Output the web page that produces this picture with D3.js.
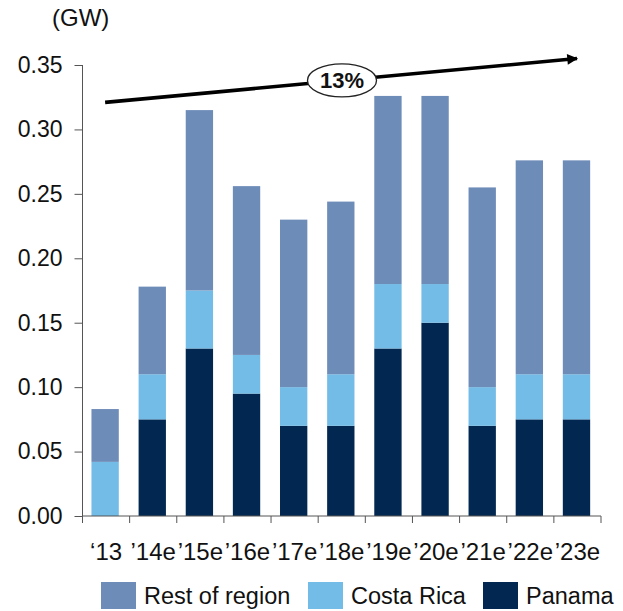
<!DOCTYPE html>
<html><head><meta charset="utf-8">
<script src="https://cdn.jsdelivr.net/npm/d3@7"></script>
<style>body{margin:0;background:#fff}text{font-family:"Liberation Sans",Arial,sans-serif}</style>
</head><body><svg id="c" width="623" height="611"></svg>
<script>
const categories = ["\u201813","\u201914e","\u201915e","\u201916e","\u201917e","\u201918e","\u201919e","\u201920e","\u201921e","\u201922e","\u201923e"];
const panama     = [0.000,0.075,0.130,0.095,0.070,0.070,0.130,0.150,0.070,0.075,0.075];
const costaRica  = [0.042,0.035,0.045,0.030,0.030,0.040,0.050,0.030,0.030,0.035,0.035];
const restRegion = [0.041,0.068,0.140,0.131,0.130,0.134,0.146,0.146,0.155,0.166,0.166];
const seriesNames = ["Panama","Costa Rica","Rest of region"];
const seriesColors = ["#022851","#73BCE7","#6E8CB8"];
const yTicks = [0,0.05,0.10,0.15,0.20,0.25,0.30,0.35];
const legendItems = ["Rest of region","Costa Rica","Panama"];
const cagrLabel = "13%";
const cagrStart = 0.321, cagrEnd = 0.355;

const FONT = "Liberation Sans, Arial, sans-serif";
const svg = d3.select("#c");
const x = d3.scaleBand().domain(categories).range([82.5,601]).padding(0);
const bw = x.bandwidth();
const y = d3.scaleLinear().domain([0,0.35]).range([516,65]);

const rows = categories.map((c,i)=>({cat:c,"Panama":panama[i],"Costa Rica":costaRica[i],"Rest of region":restRegion[i]}));
const stack = d3.stack().keys(seriesNames)(rows);
svg.append("g").selectAll("g").data(stack).join("g")
  .attr("fill",(d,i)=>seriesColors[i])
  .selectAll("rect").data(d=>d).join("rect")
  .attr("x",d=>x(d.data.cat)+bw*0.19).attr("width",bw*0.58)
  .attr("y",d=>y(d[1])).attr("height",d=>y(d[0])-y(d[1]));

// y axis
const ya = svg.append("g").attr("transform","translate(82.5,0)")
  .call(d3.axisLeft(y).tickValues(yTicks).tickFormat(d3.format(".2f")).tickSize(8).tickPadding(12));
ya.select(".domain").attr("stroke","#555").attr("d","M0,65V516");
ya.selectAll(".tick line").attr("stroke","#555");
ya.selectAll("text").attr("font-size",23).attr("fill","#111").attr("font-family",FONT);

// x axis
const xa = svg.append("g").attr("transform","translate(0,516)")
  .call(d3.axisBottom(x).tickSize(0).tickPadding(0));
xa.select(".domain").attr("stroke","#555").attr("d","M82.5,0H601");
xa.selectAll("text").attr("font-size",24).attr("fill","#111").attr("dy",0).attr("y",44)
  .attr("font-family",FONT);
const bounds = categories.map(c=>x(c)).concat([x(categories[categories.length-1])+bw]);
svg.append("g").selectAll("line").data(bounds).join("line")
  .attr("x1",d=>d).attr("x2",d=>d).attr("y1",516).attr("y2",523).attr("stroke","#555");

// unit label
svg.append("text").attr("x",52).attr("y",26).attr("font-size",24).attr("fill","#111").text("(GW)");

// CAGR arrow
svg.append("defs").append("marker").attr("id","ah").attr("viewBox","0 0 10 10")
  .attr("refX",9).attr("refY",5).attr("markerWidth",3.4).attr("markerHeight",3.0).attr("orient","auto")
  .attr("markerUnits","strokeWidth")
  .append("path").attr("d","M0,0L10,5L0,10z").attr("fill","#000");
const ax0 = x(categories[0]) + bw*0.48, ax1 = 577;
svg.append("line").attr("x1",ax0).attr("y1",y(cagrStart)).attr("x2",ax1).attr("y2",y(cagrEnd))
  .attr("stroke","#000").attr("stroke-width",3.6).attr("marker-end","url(#ah)");
const ex = 342, ey = y(cagrStart) + (y(cagrEnd)-y(cagrStart))*(ex-ax0)/(ax1-ax0);
svg.append("ellipse").attr("cx",ex).attr("cy",ey).attr("rx",34.5).attr("ry",16.5)
  .attr("fill","#fff").attr("stroke","#222").attr("stroke-width",1.3);
svg.append("text").attr("x",ex).attr("y",ey+8).attr("text-anchor","middle")
  .attr("font-size",22).attr("font-weight","bold").attr("fill","#111").text(cagrLabel);

// legend
const legendX = [101,308,483];
const lg = svg.append("g");
legendItems.forEach((n,i)=>{
  lg.append("rect").attr("x",legendX[i]).attr("y",582).attr("width",35).attr("height",27)
    .attr("fill",seriesColors[seriesNames.indexOf(n)]);
  lg.append("text").attr("x",legendX[i]+43).attr("y",604).attr("font-size",23.5).attr("fill","#111").text(n);
});
</script></body></html>
